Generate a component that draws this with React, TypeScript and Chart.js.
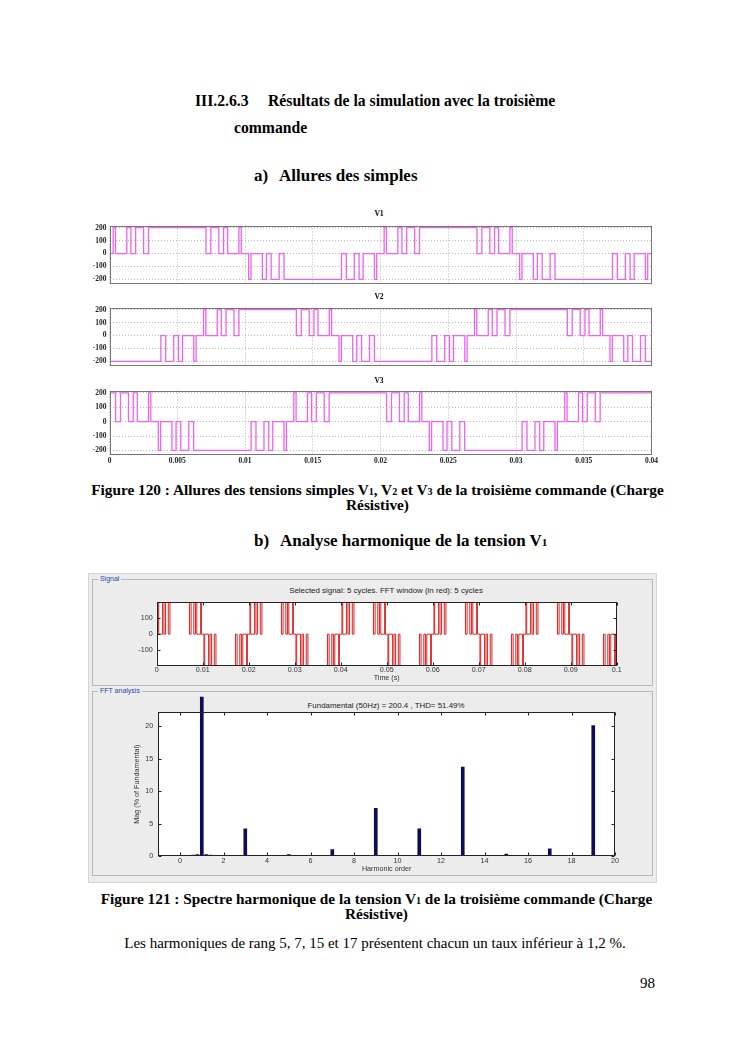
import React, { useEffect, useRef } from 'react';
import { Chart, registerables } from 'chart.js';

Chart.register(...registerables);

const SERIF = '"Liberation Serif", "Times New Roman", serif';
const SANS = '"Liberation Sans", Arial, sans-serif';

// ---------------- Figure 120 data ----------------
const PANEL_TITLES = ['V1', 'V2', 'V3'];
const TIME_TICKS = [0, 0.005, 0.01, 0.015, 0.02, 0.025, 0.03, 0.035, 0.04];
const VOLT_TICKS = [-200, -100, 0, 100, 200];

// [start (s), end (s), level (V)] ; between pulses the voltage is 0 V
const V1_PULSES: [number, number, number][] = [
  [0.00027, 0.00044, 200], [0.00128, 0.00158, 200], [0.00193, 0.00252, 200], [0.00288, 0.00712, 200],
  [0.00748, 0.00807, 200], [0.00842, 0.00872, 200], [0.00955, 0.00972, 200],
  [0.01027, 0.01044, -200], [0.01128, 0.01158, -200], [0.01193, 0.01252, -200], [0.01288, 0.01712, -200],
  [0.01748, 0.01807, -200], [0.01842, 0.01872, -200], [0.01955, 0.01972, -200],
  [0.02027, 0.02044, 200], [0.02128, 0.02158, 200], [0.02193, 0.02252, 200], [0.02288, 0.02712, 200],
  [0.02748, 0.02807, 200], [0.02842, 0.02872, 200], [0.02955, 0.02972, 200],
  [0.03027, 0.03044, -200], [0.03128, 0.03158, -200], [0.03193, 0.03252, -200], [0.03288, 0.03712, -200],
  [0.03748, 0.03807, -200], [0.03842, 0.03872, -200], [0.03955, 0.03972, -200],
];

const V2_PULSES: [number, number, number][] = [
  [0, 0.00379, -200], [0.00415, 0.00474, -200], [0.00509, 0.00539, -200], [0.00622, 0.00639, -200],
  [0.00694, 0.00711, 200], [0.00795, 0.00825, 200], [0.0086, 0.00919, 200], [0.00955, 0.01379, 200],
  [0.01415, 0.01474, 200], [0.01509, 0.01539, 200], [0.01622, 0.01639, 200],
  [0.01694, 0.01711, -200], [0.01795, 0.01825, -200], [0.0186, 0.01919, -200], [0.01955, 0.02379, -200],
  [0.02415, 0.02474, -200], [0.02509, 0.02539, -200], [0.02622, 0.02639, -200],
  [0.02694, 0.02711, 200], [0.02795, 0.02825, 200], [0.0286, 0.02919, 200], [0.02955, 0.03379, 200],
  [0.03415, 0.03474, 200], [0.03509, 0.03539, 200], [0.03622, 0.03639, 200],
  [0.03694, 0.03711, -200], [0.03795, 0.03825, -200], [0.0386, 0.03919, -200], [0.03955, 0.04, -200],
];

const V3_PULSES: [number, number, number][] = [
  [0, 0.00045, 200], [0.00081, 0.0014, 200], [0.00175, 0.00205, 200], [0.00288, 0.00305, 200],
  [0.0036, 0.00377, -200], [0.00461, 0.00491, -200], [0.00526, 0.00585, -200], [0.00621, 0.01045, -200],
  [0.01081, 0.0114, -200], [0.01175, 0.01205, -200], [0.01288, 0.01305, -200],
  [0.0136, 0.01377, 200], [0.01461, 0.01491, 200], [0.01526, 0.01585, 200], [0.01621, 0.02045, 200],
  [0.02081, 0.0214, 200], [0.02175, 0.02205, 200], [0.02288, 0.02305, 200],
  [0.0236, 0.02377, -200], [0.02461, 0.02491, -200], [0.02526, 0.02585, -200], [0.02621, 0.03045, -200],
  [0.03081, 0.0314, -200], [0.03175, 0.03205, -200], [0.03288, 0.03305, -200],
  [0.0336, 0.03377, 200], [0.03461, 0.03491, 200], [0.03526, 0.03585, 200], [0.03621, 0.04, 200],
];

// ---------------- Figure 121 data ----------------
const SIGNAL_TIME_TICKS = [0, 0.01, 0.02, 0.03, 0.04, 0.05, 0.06, 0.07, 0.08, 0.09, 0.1];
const SIGNAL_Y_TICKS = [-100, 0, 100];
const SIGNAL_PULSES: [number, number, number][] = [
  [0.00027, 0.00044, 200], [0.00128, 0.00158, 200], [0.00193, 0.00252, 200], [0.00288, 0.00712, 200], [0.00748, 0.00807, 200], [0.00842, 0.00872, 200], [0.00955, 0.00972, 200],
  [0.01027, 0.01044, -200], [0.01128, 0.01158, -200], [0.01193, 0.01252, -200], [0.01288, 0.01712, -200], [0.01748, 0.01807, -200], [0.01842, 0.01872, -200], [0.01955, 0.01972, -200],
  [0.02027, 0.02044, 200], [0.02128, 0.02158, 200], [0.02193, 0.02252, 200], [0.02288, 0.02712, 200], [0.02748, 0.02807, 200], [0.02842, 0.02872, 200], [0.02955, 0.02972, 200],
  [0.03027, 0.03044, -200], [0.03128, 0.03158, -200], [0.03193, 0.03252, -200], [0.03288, 0.03712, -200], [0.03748, 0.03807, -200], [0.03842, 0.03872, -200], [0.03955, 0.03972, -200],
  [0.04027, 0.04044, 200], [0.04128, 0.04158, 200], [0.04193, 0.04252, 200], [0.04288, 0.04712, 200], [0.04748, 0.04807, 200], [0.04842, 0.04872, 200], [0.04955, 0.04972, 200],
  [0.05027, 0.05044, -200], [0.05128, 0.05158, -200], [0.05193, 0.05252, -200], [0.05288, 0.05712, -200], [0.05748, 0.05807, -200], [0.05842, 0.05872, -200], [0.05955, 0.05972, -200],
  [0.06027, 0.06044, 200], [0.06128, 0.06158, 200], [0.06193, 0.06252, 200], [0.06288, 0.06712, 200], [0.06748, 0.06807, 200], [0.06842, 0.06872, 200], [0.06955, 0.06972, 200],
  [0.07027, 0.07044, -200], [0.07128, 0.07158, -200], [0.07193, 0.07252, -200], [0.07288, 0.07712, -200], [0.07748, 0.07807, -200], [0.07842, 0.07872, -200], [0.07955, 0.07972, -200],
  [0.08027, 0.08044, 200], [0.08128, 0.08158, 200], [0.08193, 0.08252, 200], [0.08288, 0.08712, 200], [0.08748, 0.08807, 200], [0.08842, 0.08872, 200], [0.08955, 0.08972, 200],
  [0.09027, 0.09044, -200], [0.09128, 0.09158, -200], [0.09193, 0.09252, -200], [0.09288, 0.09712, -200], [0.09748, 0.09807, -200], [0.09842, 0.09872, -200], [0.09955, 0.09972, -200],
];

const HARMONIC_ORDER = [0, 0.6, 0.8, 1, 1.2, 1.4, 3, 5, 7, 9, 11, 13, 15, 17, 19];
const HARMONIC_MAG = [0.1, 0.15, 0.2, 100, 0.2, 0.15, 4.2, 0.2, 1.0, 7.35, 4.2, 13.7, 0.3, 1.1, 20.1];
const HARMONIC_X_TICKS = [0, 2, 4, 6, 8, 10, 12, 14, 16, 18, 20];
const HARMONIC_Y_TICKS = [0, 5, 10, 15, 20];

// ---------------- helpers ----------------
function stepPoints(pulses: [number, number, number][], tEnd: number) {
  const pts: { x: number; y: number }[] = [];
  if (pulses[0][0] > 0) pts.push({ x: 0, y: 0 });
  pulses.forEach(([a, b, v]) => {
    pts.push({ x: a, y: v });
    pts.push({ x: b, y: b >= tEnd ? v : 0 });
  });
  if (pts[pts.length - 1].x < tEnd) pts.push({ x: tEnd, y: 0 });
  return pts;
}

const framePlugin = {
  id: 'frame',
  beforeDraw(chart: any, _a: any, opts: any) {
    if (opts && opts.bg) {
      const a = chart.chartArea;
      const ctx = chart.ctx;
      ctx.save();
      ctx.fillStyle = opts.bg;
      ctx.fillRect(a.left, a.top, a.right - a.left, a.bottom - a.top);
      ctx.restore();
    }
  },
  afterDraw(chart: any, _a: any, opts: any) {
    const { ctx, chartArea: a } = chart;
    ctx.save();
    ctx.strokeStyle = opts.color || '#000';
    ctx.lineWidth = 1;
    const L = Math.round(a.left) + 0.5;
    const R = Math.round(a.right) - 0.5;
    const T = Math.round(a.top) + 0.5;
    const B = Math.round(a.bottom) - 0.5;
    ctx.strokeRect(L, T, R - L, B - T);
    const tl = opts.tickLen || 0;
    if (tl) {
      ctx.beginPath();
      chart.scales.x.ticks.forEach((t: any) => {
        const p = Math.round(chart.scales.x.getPixelForValue(t.value)) + 0.5;
        ctx.moveTo(p, B); ctx.lineTo(p, B - tl);
        ctx.moveTo(p, T); ctx.lineTo(p, T + tl);
      });
      chart.scales.y.ticks.forEach((t: any) => {
        const p = Math.round(chart.scales.y.getPixelForValue(t.value)) + 0.5;
        ctx.moveTo(L, p); ctx.lineTo(L + tl, p);
        ctx.moveTo(R, p); ctx.lineTo(R - tl, p);
      });
      ctx.stroke();
    }
    ctx.restore();
  },
};

function ChartBox({ left, top, width, height, make }: any) {
  const ref = useRef<HTMLCanvasElement>(null);
  useEffect(() => {
    const chart = new Chart(ref.current as HTMLCanvasElement, make());
    return () => chart.destroy();
  }, []);
  return (
    <canvas
      ref={ref}
      width={width}
      height={height}
      style={{ position: 'absolute', left, top, width, height }}
    />
  );
}

const fixTicks = (vals: number[]) => (s: any) => {
  s.ticks = vals.map((v) => ({ value: v }));
};

function panelConfig(pulses: [number, number, number][], showX: boolean): any {
  const tickFont = { family: SERIF, size: 7.5, weight: 'bold' as const };
  return {
    type: 'line',
    data: {
      datasets: [
        {
          data: stepPoints(pulses, 0.04),
          stepped: true,
          borderColor: '#ee62ee',
          borderWidth: 1.3,
          pointRadius: 0,
          fill: false,
        },
      ],
    },
    options: {
      animation: false,
      responsive: false,
      events: [],
      layout: { padding: { left: 0, right: 8.5, top: 2, bottom: 0 }, autoPadding: false },
      plugins: { legend: { display: false }, tooltip: { enabled: false }, frame: { color: '#777' } },
      scales: {
        x: {
          type: 'linear',
          min: 0,
          max: 0.04,
          afterBuildTicks: fixTicks(TIME_TICKS),
          ticks: {
            display: showX,
            padding: 1.5,
            font: tickFont,
            color: '#222',
            maxRotation: 0,
            autoSkip: false,
            callback: (v: number) => String(Math.round(v * 1000) / 1000),
          },
          grid: { color: '#b8b8b8', drawTicks: false },
          border: { display: false, dash: [1, 2] },
          afterFit: (s: any) => {
            s.height = showX ? 12 : 0;
            s.paddingLeft = 0;
            s.paddingRight = 0;
          },
        },
        y: {
          min: -232,
          max: 217,
          afterBuildTicks: fixTicks(VOLT_TICKS),
          ticks: { padding: 3, font: tickFont, color: '#222' },
          grid: { color: '#b8b8b8', drawTicks: false },
          border: { display: false, dash: [1, 2] },
          afterFit: (s: any) => {
            s.width = 29.5;
          },
        },
      },
    },
  };
}

function signalConfig(): any {
  const font = { family: SANS, size: 7.2 };
  return {
    type: 'line',
    data: {
      datasets: [
        {
          data: stepPoints(SIGNAL_PULSES, 0.1),
          stepped: true,
          borderColor: '#d82424',
          borderWidth: 1,
          pointRadius: 0,
          fill: false,
        },
      ],
    },
    options: {
      animation: false,
      responsive: false,
      events: [],
      layout: { padding: { left: 0, right: 13.3, top: 3, bottom: 0 }, autoPadding: false },
      plugins: {
        legend: { display: false },
        tooltip: { enabled: false },
        frame: { color: '#222', tickLen: 3, bg: '#ffffff' },
      },
      scales: {
        x: {
          type: 'linear',
          min: 0,
          max: 0.1,
          afterBuildTicks: fixTicks(SIGNAL_TIME_TICKS),
          ticks: {
            padding: 0,
            font,
            color: '#333',
            maxRotation: 0,
            autoSkip: false,
            callback: (v: number) => String(Math.round(v * 100) / 100),
          },
          grid: { display: false, drawTicks: false },
          border: { display: false },
          title: { display: true, text: 'Time (s)', font, color: '#333', padding: 0 },
          afterFit: (s: any) => {
            s.height = 16;
            s.paddingLeft = 0;
            s.paddingRight = 0;
          },
        },
        y: {
          min: -200,
          max: 200,
          afterBuildTicks: fixTicks(SIGNAL_Y_TICKS),
          ticks: { padding: 4, font, color: '#333' },
          grid: { display: false, drawTicks: false },
          border: { display: false },
          afterFit: (s: any) => {
            s.width = 36.7;
          },
        },
      },
    },
  };
}

function spectrumConfig(): any {
  const font = { family: SANS, size: 7.2 };
  return {
    type: 'bar',
    data: {
      datasets: [
        {
          data: HARMONIC_ORDER.map((h, i) => ({ x: h, y: HARMONIC_MAG[i] })),
          backgroundColor: '#0c0c58',
          borderWidth: 0,
          barThickness: 3,
          clip: { left: 3, top: 15.6, right: 3, bottom: 0 },
        },
      ],
    },
    options: {
      animation: false,
      responsive: false,
      events: [],
      layout: { padding: { left: 0, right: 15, top: 22.3, bottom: 0 }, autoPadding: false },
      plugins: {
        legend: { display: false },
        tooltip: { enabled: false },
        frame: { color: '#222', tickLen: 3, bg: '#ffffff' },
      },
      scales: {
        x: {
          type: 'linear',
          min: -1,
          max: 20,
          offset: false,
          afterBuildTicks: fixTicks(HARMONIC_X_TICKS),
          ticks: { padding: 1, font, color: '#333', maxRotation: 0, autoSkip: false },
          grid: { display: false, offset: false, drawTicks: false },
          border: { display: false },
          title: { display: true, text: 'Harmonic order', font, color: '#333', padding: 0 },
          afterFit: (s: any) => {
            s.height = 17;
            s.paddingLeft = 0;
            s.paddingRight = 0;
          },
        },
        y: {
          min: 0,
          max: 22.15,
          afterBuildTicks: fixTicks(HARMONIC_Y_TICKS),
          ticks: { padding: 5, font, color: '#333' },
          grid: { display: false, drawTicks: false },
          border: { display: false },
          title: { display: true, text: 'Mag (% of Fundamental)', font, color: '#333', padding: 0 },
          afterFit: (s: any) => {
            s.width = 25.3;
          },
        },
      },
    },
    plugins: [framePlugin],
  };
}

// ---------------- text helpers ----------------
function Txt({ x, base, size, bold, align, family, color, children, bg }: any) {
  const center = align === 'center';
  return (
    <div
      style={{
        position: 'absolute',
        left: center ? x - 400 : x,
        top: base - 0.94 * size,
        width: center ? 800 : undefined,
        textAlign: center ? 'center' : 'left',
        fontFamily: family || SERIF,
        fontSize: size,
        fontWeight: bold ? 'bold' : 'normal',
        lineHeight: 1.2,
        whiteSpace: 'nowrap',
        color: color || '#000',
        background: bg,
      }}
    >
      {children}
    </div>
  );
}

const Sub = ({ children }: any) => <span style={{ fontSize: '0.66em' }}>{children}</span>;

export default function App() {
  const panels = [
    { pulses: V1_PULSES, top: 218, height: 73, showX: false, titleBase: 216.5 },
    { pulses: V2_PULSES, top: 300, height: 73, showX: false, titleBase: 299.5 },
    { pulses: V3_PULSES, top: 383, height: 84, showX: true, titleBase: 383.5 },
  ];
  return (
    <div style={{ position: 'absolute', left: 0, top: 0, width: 745, height: 1053, background: '#fff', overflow: 'hidden' }}>
      <Txt x={195} base={107} size={15.7} bold>III.2.6.3</Txt>
      <Txt x={268} base={107} size={15.7} bold>Résultats de la simulation avec la troisième</Txt>
      <Txt x={234} base={134} size={15.7} bold>commande</Txt>

      <Txt x={254} base={182} size={17} bold>a)</Txt>
      <Txt x={279} base={182} size={17} bold>Allures des simples</Txt>

      {panels.map((p, i) => (
        <React.Fragment key={i}>
          <ChartBox
            left={80}
            top={p.top}
            width={580}
            height={p.height}
            make={() => ({ ...panelConfig(p.pulses, p.showX), plugins: [framePlugin] })}
          />
          <Txt x={379} base={p.titleBase} size={7.5} bold align="center">{PANEL_TITLES[i]}</Txt>
        </React.Fragment>
      ))}

      <Txt x={377.5} base={495} size={15.3} bold align="center">
        Figure 120 : Allures des tensions simples V<Sub>1</Sub>, V<Sub>2</Sub> et V<Sub>3</Sub> de la troisième commande (Charge
      </Txt>
      <Txt x={377.5} base={510} size={15.3} bold align="center">Résistive)</Txt>

      <Txt x={254} base={546.5} size={17} bold>b)</Txt>
      <Txt x={280} base={546.5} size={17} bold>Analyse harmonique de la tension V<Sub>1</Sub></Txt>

      {/* GUI screenshot */}
      <div style={{ position: 'absolute', left: 88, top: 573, width: 569, height: 310, background: '#ececec', border: '1px solid #d6d6d6', boxSizing: 'border-box' }} />
      <div style={{ position: 'absolute', left: 91.5, top: 579, width: 561, height: 107, border: '1px solid #b9b9b9', boxSizing: 'border-box' }} />
      <div style={{ position: 'absolute', left: 91.5, top: 691, width: 561, height: 185, border: '1px solid #b9b9b9', boxSizing: 'border-box' }} />
      <Txt x={98} base={582} size={7} family={SANS} color="#2a46a8" bg="#ececec">&nbsp;Signal&nbsp;</Txt>
      <Txt x={98} base={694} size={7} family={SANS} color="#2a46a8" bg="#ececec">&nbsp;FFT analysis&nbsp;</Txt>
      <Txt x={386} base={593.3} size={7.9} family={SANS} color="#222" align="center">
        Selected signal: 5 cycles. FFT window (in red): 5 cycles
      </Txt>
      <ChartBox left={120} top={594} width={510} height={88} make={() => ({ ...signalConfig(), plugins: [framePlugin] })} />
      <Txt x={386} base={708.3} size={7.9} family={SANS} color="#222" align="center">
        Fundamental (50Hz) = 200.4 , THD= 51.49%
      </Txt>
      <ChartBox left={133} top={690} width={497} height={183} make={spectrumConfig} />

      <Txt x={376.5} base={904} size={15.3} bold align="center">
        Figure 121 : Spectre harmonique de la tension V<Sub>1</Sub> de la troisième commande (Charge
      </Txt>
      <Txt x={376.5} base={919} size={15.3} bold align="center">Résistive)</Txt>

      <Txt x={375} base={948} size={15} align="center">
        Les harmoniques de rang 5, 7, 15 et 17 présentent chacun un taux inférieur à 1,2 %.
      </Txt>
      <Txt x={640} base={988} size={15}>98</Txt>
    </div>
  );
}
